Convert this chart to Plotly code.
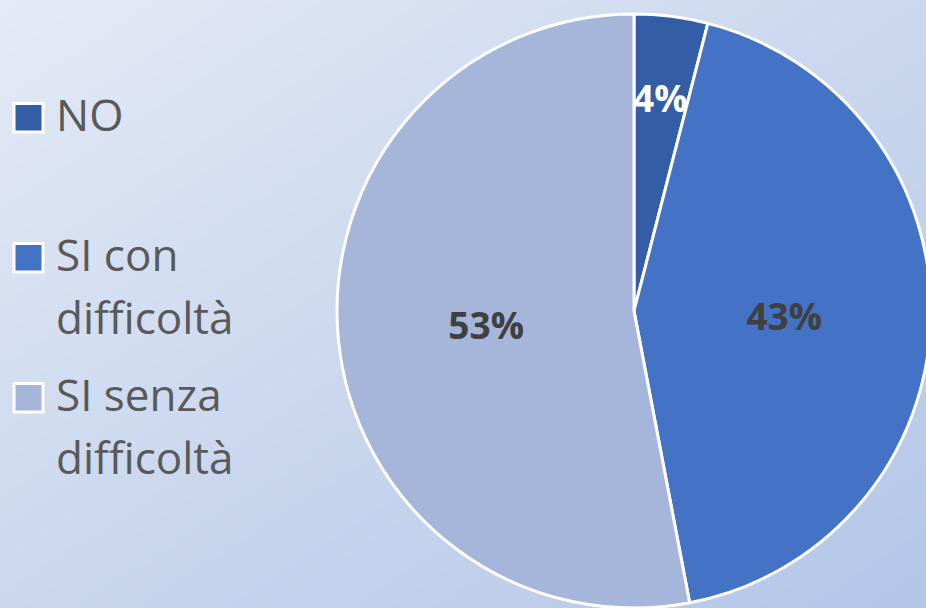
import math
import plotly.graph_objects as go

# ---- data ----
labels = ["NO", "SI con difficoltà", "SI senza difficoltà"]
values = [4, 43, 53]
slice_colors = ["#335ea5", "#4472c4", "#a6b5da"]
label_text_colors = ["#ffffff", "#404040", "#404040"]

W, H = 940, 608
FONT = "Open Sans"

def px_x(p):
    return p / W

def px_y(p):
    return 1 - p / H

# pie geometry (pixels): center and radius
CX, CY, R = 634, 311, 297

fig = go.Figure()

# background gradient (diagonal) via a smooth heatmap on hidden axes
fig.add_trace(go.Heatmap(
    x=[0, 1], y=[0, 1], z=[[0.5, 1.0], [0.0, 0.5]],
    zsmooth="best", showscale=False, hoverinfo="skip",
    colorscale=[[0, "#e4eaf6"], [0.5, "#cad7ee"], [1, "#b3c6e8"]],
))

total = sum(values)
templates = ["" if v / total < 0.1 else "<b>%{percent:.0%}</b>" for v in values]

fig.add_trace(go.Pie(
    labels=labels, values=values, sort=False, direction="clockwise", rotation=0,
    marker=dict(colors=slice_colors, line=dict(color="#ffffff", width=3)),
    textposition="inside", insidetextorientation="horizontal",
    texttemplate=templates,
    textfont=dict(family=FONT, size=37, color=label_text_colors),
    domain=dict(x=[(CX - R) / W, (CX + R) / W], y=[1 - (CY + R) / H, 1 - (CY - R) / H]),
    showlegend=False, hoverinfo="label+percent",
))

annotations = []
# labels for small slices, placed from the slice's mid angle
cum = 0
for v, tc in zip(values, label_text_colors):
    mid = (cum + v / 2) / total * 2 * math.pi
    cum += v
    if v / total < 0.1:
        rr = 0.725 * R
        annotations.append(dict(
            text=f"<b>{round(100 * v / total)}%</b>", xref="paper", yref="paper",
            x=px_x(CX + rr * math.sin(mid)), y=px_y(CY - rr * math.cos(mid)),
            xanchor="center", yanchor="middle", showarrow=False,
            font=dict(family=FONT, size=37, color=tc),
        ))

# custom legend (large squares with white border + wrapped labels)
legend_rows = [102, 242, 382]  # top of each square (px)
shapes = []
for lab, col, top in zip(labels, slice_colors, legend_rows):
    shapes.append(dict(
        type="rect", xref="paper", yref="paper",
        x0=px_x(14), x1=px_x(43), y0=px_y(top + 1.5), y1=px_y(top + 30),
        fillcolor=col, line=dict(color="#ffffff", width=3), layer="above",
    ))
    parts = lab.split(" difficoltà")
    lines = [parts[0]] + (["difficoltà"] if len(parts) > 1 else [])
    for k, line in enumerate(lines):
        baseline = top + 31 + k * 63
        annotations.append(dict(
            text=line, xref="paper", yref="paper", showarrow=False,
            x=px_x(54), y=px_y(baseline - 19), xanchor="left", yanchor="middle",
            font=dict(family=FONT, size=44, color="#595959"),
        ))

fig.update_layout(
    width=W, height=H,
    margin=dict(l=0, r=0, t=0, b=0),
    paper_bgcolor="#d4dff1", plot_bgcolor="rgba(0,0,0,0)",
    xaxis=dict(visible=False, range=[0, 1], fixedrange=True),
    yaxis=dict(visible=False, range=[0, 1], fixedrange=True),
    shapes=shapes, annotations=annotations,
    showlegend=False,
)

fig.write_html(
    "out.html",
    config={"displayModeBar": False},
    post_script="document.body.style.margin='0';document.body.style.overflow='hidden';",
)
